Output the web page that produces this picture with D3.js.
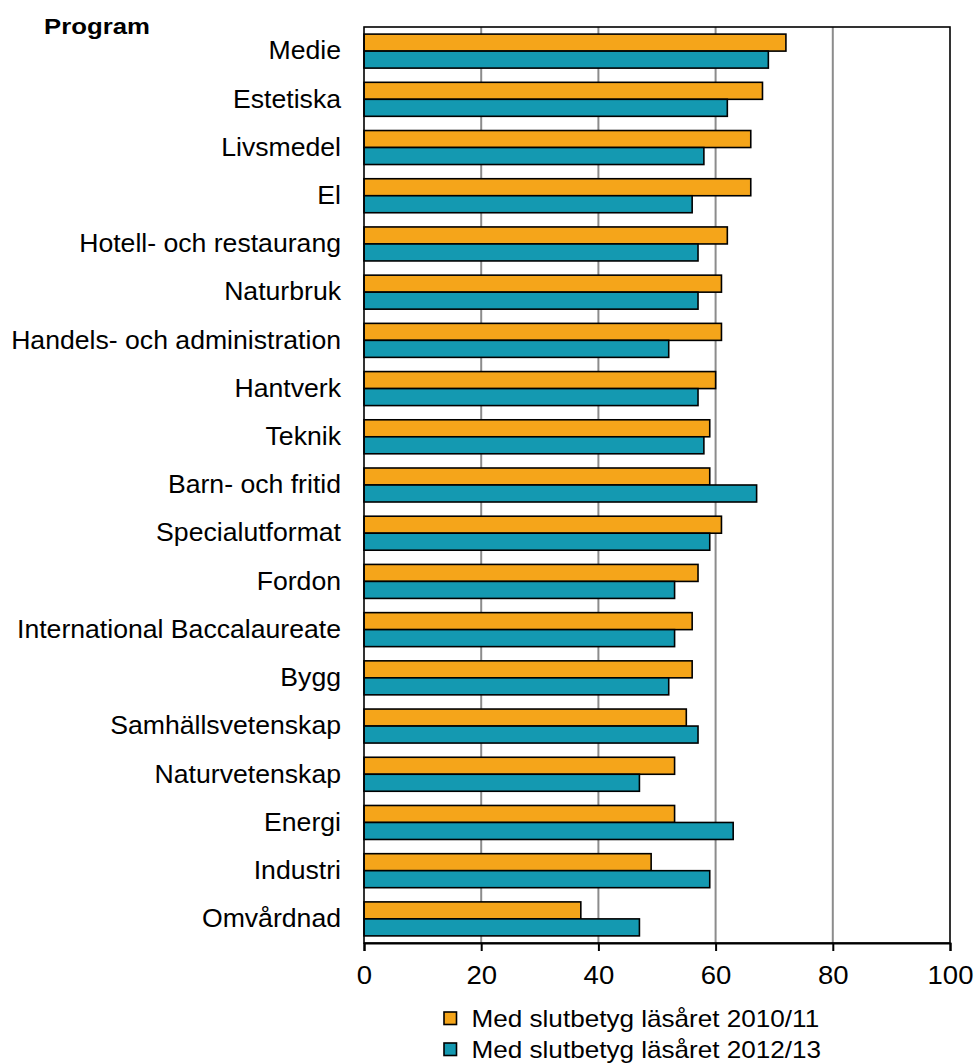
<!DOCTYPE html>
<html>
<head>
<meta charset="utf-8">
<script src="https://cdn.jsdelivr.net/npm/d3@7"></script>
<style>
  html, body { margin: 0; padding: 0; background: #fff; }
  svg text { font-family: Arial, "Liberation Sans", sans-serif; fill: #000; }
</style>
</head>
<body>
<svg id="chart" width="974" height="1064"></svg>
<script>
const categories = ["Medie","Estetiska","Livsmedel","El","Hotell- och restaurang","Naturbruk",
  "Handels- och administration","Hantverk","Teknik","Barn- och fritid","Specialutformat","Fordon",
  "International Baccalaureate","Bygg","Samhällsvetenskap","Naturvetenskap","Energi","Industri","Omvårdnad"];
const values2010 = [72,68,66,66,62,61,61,60,59,59,61,57,56,56,55,53,53,49,37];
const values2013 = [69,62,58,56,57,57,52,57,58,67,59,53,53,52,57,47,63,59,47];
const seriesNames = ["Med slutbetyg läsåret 2010/11","Med slutbetyg läsåret 2012/13"];
const seriesColors = ["#F5A51A","#1499B1"];
const xTicks = [0,20,40,60,80,100];
const axisTitle = "Program";

(function(){
const svg = d3.select("#chart");
const pLeft = 364, pRight = 950, pTop = 27, pBottom = 943;

const x = d3.scaleLinear().domain([0,100]).range([pLeft,pRight]);
const y = d3.scaleBand().domain(categories).range([pTop,pBottom]).padding(0);
const ySub = d3.scaleBand().domain([0,1]).range([0,y.bandwidth()]).paddingInner(0).paddingOuter(0.418);

// gridlines
svg.append("g").selectAll("line").data(xTicks.filter(t => t>0 && t<100)).join("line")
  .attr("x1", d => x(d)).attr("x2", d => x(d))
  .attr("y1", pTop).attr("y2", pBottom)
  .attr("stroke", "#8c8c8c").attr("stroke-width", 2);

// bars
const series = [values2010, values2013];
const g = svg.append("g");
series.forEach((vals, si) => {
  g.append("g").selectAll("rect").data(categories).join("rect")
    .attr("x", x(0))
    .attr("y", (d) => y(d) + ySub(si))
    .attr("width", (d,i) => x(vals[i]) - x(0))
    .attr("height", ySub.bandwidth())
    .attr("fill", seriesColors[si])
    .attr("stroke", "#000").attr("stroke-width", 1.6);
});

// frame
svg.append("rect").attr("x", pLeft).attr("y", pTop).attr("width", pRight-pLeft).attr("height", pBottom-pTop)
  .attr("fill","none").attr("stroke","#000").attr("stroke-width",1.6);

// x axis
const xAxis = d3.axisBottom(x).tickValues(xTicks).tickSize(8).tickPadding(15).tickFormat(d3.format("d"));
const ax = svg.append("g").attr("transform", `translate(0,${pBottom})`).call(xAxis);
ax.select(".domain").attr("stroke","#000").attr("stroke-width",2);
ax.selectAll(".tick line").attr("stroke","#000").attr("stroke-width",2);
ax.selectAll(".tick text")
  .attr("font-size", 25.5)
  .attr("font-family", "Arial, 'Liberation Sans', sans-serif").attr("fill","#000")
  .attr("transform", "scale(1.08,1)");

// category labels
svg.append("g").selectAll("text").data(categories).join("text")
  .attr("transform", d => `translate(341,${y(d) + y.bandwidth()/2 - 0.5}) scale(1.065,1)`)
  .attr("dy", "0.35em")
  .attr("text-anchor", "end")
  .attr("font-size", 25)
  .text(d => d);

// title
svg.append("text").attr("transform", "translate(44,34.3) scale(1.12,1)")
  .attr("font-size", 23).attr("font-weight","bold").text(axisTitle);

// legend
const leg = svg.append("g");
seriesNames.forEach((name, i) => {
  const base = 1027 + i*31;
  leg.append("rect").attr("x", 444).attr("y", base - 15).attr("width", 12.5).attr("height", 12.5)
    .attr("fill", seriesColors[i]).attr("stroke","#000").attr("stroke-width",1.6);
  leg.append("text").attr("transform", `translate(471.5,${base}) scale(1.135,1)`)
    .attr("font-size", 23).text(name);
});
})();
</script>
</body>
</html>
